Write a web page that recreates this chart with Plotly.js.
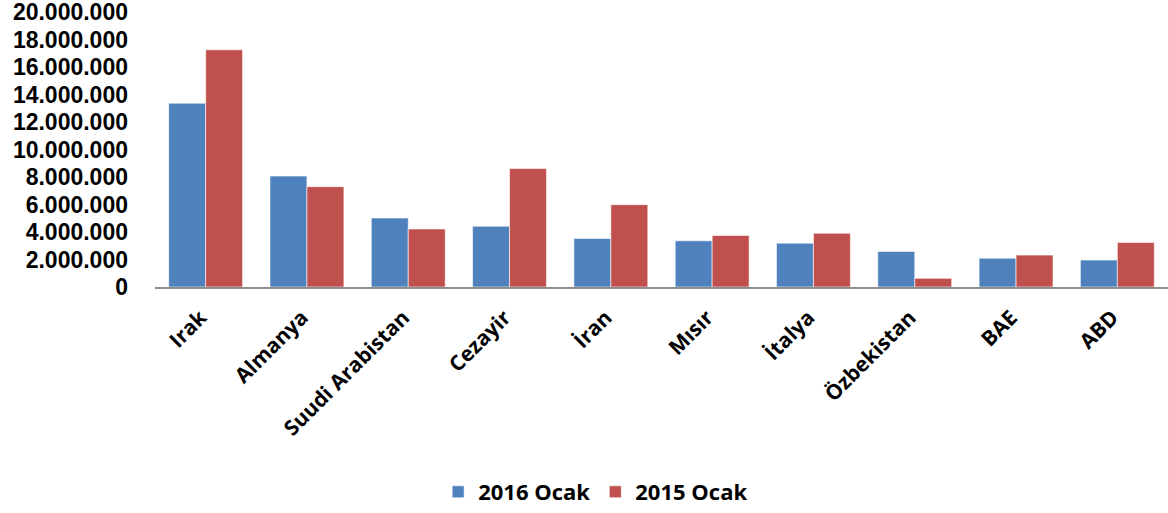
<!DOCTYPE html>
<html>
<head>
<meta charset="utf-8">
<script src="https://cdn.plot.ly/plotly-3.0.1.min.js"></script>
<style>html,body{margin:0;padding:0;background:#fff;}#chart{width:1168px;height:513px;}</style>
</head>
<body>
<div id="chart"></div>
<script>
const countries = ["Irak", "Almanya", "Suudi Arabistan", "Cezayir", "İran", "Mısır", "İtalya", "Özbekistan", "BAE", "ABD"];
const series2016Name = "2016 Ocak";
const series2015Name = "2015 Ocak";
const values2016 = [13370000, 8070000, 5020000, 4420000, 3530000, 3360000, 3190000, 2590000, 2100000, 1960000];
const values2015 = [17250000, 7300000, 4220000, 8620000, 5990000, 3750000, 3910000, 630000, 2320000, 3240000];
const yTicks = [0, 2000000, 4000000, 6000000, 8000000, 10000000, 12000000, 14000000, 16000000, 18000000, 20000000];

const fontFam = "'Open Sans', 'DejaVu Sans', sans-serif";
const yFontFam = "'Liberation Sans', Arial, sans-serif";
const traces = [
  {type: "bar", name: series2016Name, x: countries, y: values2016,
   marker: {color: "#4F81BD", line: {color: "rgba(255,255,255,0.6)", width: 1}}},
  {type: "bar", name: series2015Name, x: countries, y: values2015,
   marker: {color: "#C0504D", line: {color: "rgba(255,255,255,0.6)", width: 1}}}
];
const layout = {
  width: 1168, height: 513,
  margin: {l: 155, r: 0, t: 12, b: 225},
  paper_bgcolor: "#fff", plot_bgcolor: "#fff",
  separators: ",.",
  barmode: "group", bargap: 0.27, bargroupgap: 0,
  font: {family: fontFam, size: 22, color: "#000", weight: "bold"},
  xaxis: {type: "category", tickangle: -45, showgrid: false, showline: true, linecolor: "#8c8c8c", linewidth: 2,
          ticks: "", ticklabelstandoff: 8, ticklabelshift: -5,
          tickfont: {family: fontFam, size: 21, color: "#000", weight: "bold"}, fixedrange: true},
  yaxis: {range: [0, 20000000], tickvals: yTicks, tickformat: ",d", showgrid: false, zeroline: false, showline: false,
          ticks: "", ticklabelstandoff: 26, ticklabeloverflow: "allow",
          tickfont: {family: yFontFam, size: 23, color: "#000", weight: "bold"}, fixedrange: true},
  showlegend: true,
  legend: {orientation: "h", x: 0.435, xanchor: "center", y: -0.743, yanchor: "middle",
           font: {family: fontFam, size: 22, color: "#000", weight: "bold"}, itemwidth: 30, traceorder: "normal"}
};
Plotly.newPlot("chart", traces, layout, {displayModeBar: false, staticPlot: true});
</script>
</body>
</html>
